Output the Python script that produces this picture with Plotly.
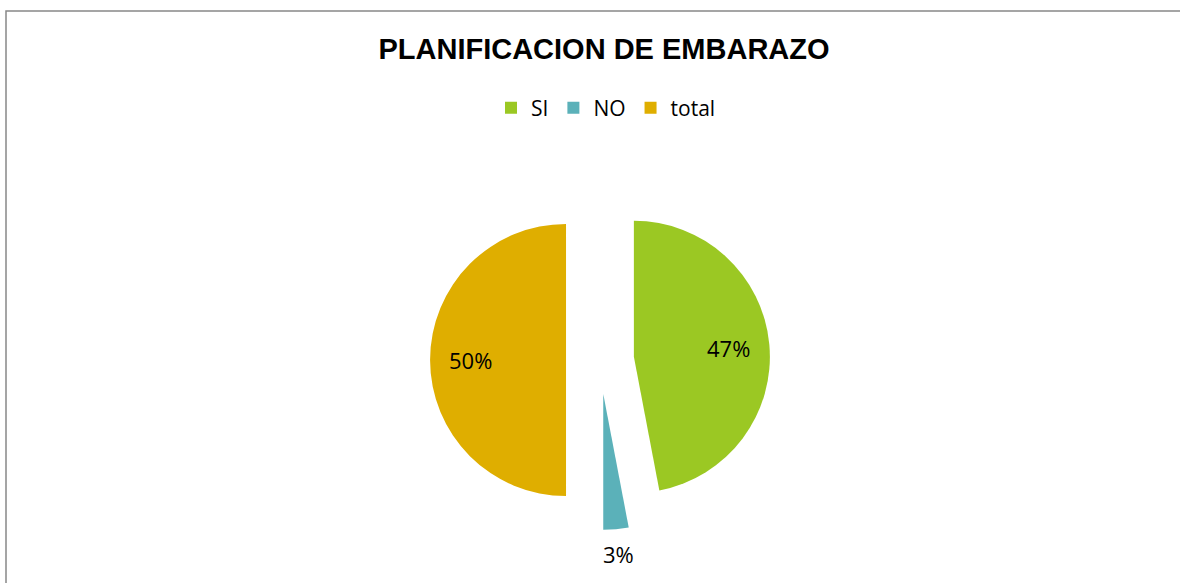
import math
import plotly.graph_objects as go

categories = ["SI", "NO", "total"]
values = [47, 3, 50]
colors = ["#9BC823", "#5BB1B9", "#DFAE00"]
title_text = "PLANIFICACION DE EMBARAZO"

W, H = 1180, 583
PULL = 0.25
DOM_X = [0.3, 0.717]
DOM_Y = [1 - 530 / H, 1 - 190 / H]

fig = go.Figure(go.Pie(
    labels=categories,
    values=values,
    sort=False,
    direction="clockwise",
    rotation=0,
    pull=[PULL] * len(values),
    marker=dict(colors=colors, line=dict(width=0)),
    textinfo="none",
    domain=dict(x=DOM_X, y=DOM_Y),
    showlegend=True,
    hoverinfo="label+percent",
))

# percentage labels placed along each slice's mid angle (Excel-like)
total = sum(values)
cx = (DOM_X[0] + DOM_X[1]) / 2 * W
cy = (1 - (DOM_Y[0] + DOM_Y[1]) / 2) * H
r = min((DOM_X[1] - DOM_X[0]) * W, (DOM_Y[1] - DOM_Y[0]) * H) / 2 / (1 + PULL)
annotations = []
cum = 0
for lab, v in zip(categories, values):
    frac = v / total
    mid = (cum + frac / 2) * 2 * math.pi
    cum += frac
    k = 0.95 if frac > 0.1 else 1.43
    px = cx + k * r * math.sin(mid)
    py = cy - k * r * math.cos(mid)
    annotations.append(dict(
        text=f"{round(frac * 100)}%", x=px / W, y=1 - py / H,
        xref="paper", yref="paper", showarrow=False,
        xanchor="center", yanchor="middle",
        font=dict(family="Open Sans", size=22, color="#000000"),
    ))

fig.update_layout(
    width=W, height=H,
    autosize=False,
    margin=dict(l=0, r=0, t=0, b=0),
    paper_bgcolor="white",
    title=dict(text="<b>" + title_text + "</b>", x=604 / W, xanchor="center",
               y=1 - 49 / H, yanchor="middle",
               font=dict(family="Liberation Sans, Arial", size=29, color="#000000")),
    legend=dict(orientation="h", x=606 / W, xanchor="center", y=1 - 108 / H, yanchor="middle",
                font=dict(family="Open Sans", size=21, color="#000000")),
    annotations=annotations,
    shapes=[dict(type="rect", xref="paper", yref="paper",
                 x0=6 / W, x1=1.05, y0=-0.05, y1=1 - 11 / H,
                 line=dict(color="#888888", width=1.5), fillcolor="rgba(0,0,0,0)")],
)

fig.write_html("out.html", config={"responsive": False, "displayModeBar": False},
               post_script="document.body.style.margin='0';document.body.style.overflow='hidden';")
